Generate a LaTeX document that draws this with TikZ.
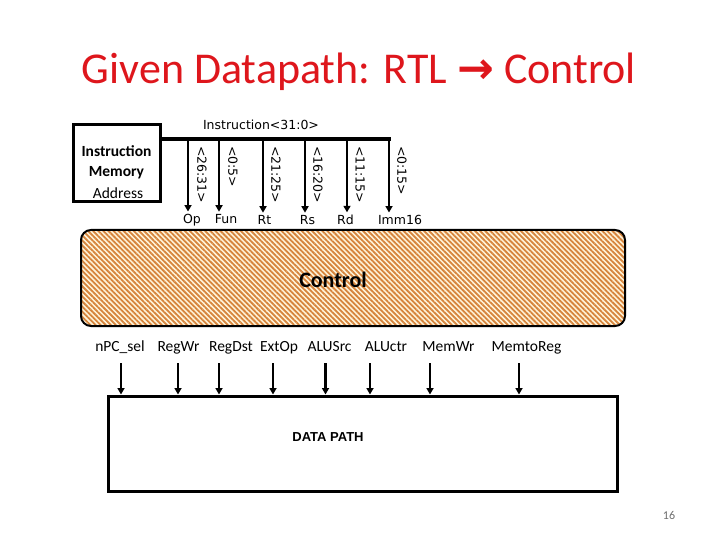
\documentclass[tikz,border=0pt]{standalone}
\usepackage{fontspec}
\setmainfont{Carlito}
\newfontfamily\dv{DejaVu Sans}
\newfontfamily\lib{Liberation Sans}
\usetikzlibrary{arrows.meta,patterns.meta}
\definecolor{titlered}{RGB}{222,22,28}
\definecolor{hatch}{RGB}{214,132,60}
\definecolor{cream}{RGB}{255,244,218}
\definecolor{pagegray}{RGB}{110,110,110}
\begin{document}
\begin{tikzpicture}[x=1pt,y=-1pt,
  box/.style={draw, line width=3pt, inner sep=0pt},
  sig/.style={font=\fontsize{15.5}{18}\selectfont, inner sep=0pt, anchor=base},
  bit/.style={font=\dv\fontsize{12.5}{14}\selectfont, rotate=-90, anchor=west, inner sep=0pt},
  fld/.style={font=\dv\fontsize{12.5}{14}\selectfont, inner sep=0pt, anchor=base},
  memtxt/.style={font=\fontsize{15.5}{18}\selectfont, anchor=base, inner sep=0pt},
  arr/.style={line width=2.2pt, -{Triangle[length=6.5pt,width=7pt]}},
]
\useasboundingbox (0,0) rectangle (720,540);

% title
\node[text=titlered, font=\fontsize{44}{50}\selectfont, anchor=base, inner sep=0pt] (title) at (359,84)
  {Given Datapath: RTL {\dv\bfseries →} Control};

% instruction memory
\node[box, minimum width=87pt, minimum height=77pt] (mem) at (116.5,163.5) {};
\node[memtxt, font=\bfseries\fontsize{15.5}{18}\selectfont] (m1) at (116.5,157) {Instruction};
\node[memtxt, font=\bfseries\fontsize{15.5}{18}\selectfont] (m2) at (116.5,177) {Memory};
\node[memtxt] (m3) at (118,199) {Address};

% bus
\coordinate (busL) at (mem.east |- {(0,139)});
\coordinate (busR) at (391,139);
\draw[line width=3.2pt] (busL) -- (busR);
\node[font=\dv\fontsize{12.5}{14}\selectfont, inner sep=0pt] (buslbl) at (261,125) {Instruction<31:0>};

% field taps
\coordinate (t1) at (188,139);
\coordinate (t2) at (219,139);
\coordinate (t3) at (263,139);
\coordinate (t4) at (305,139);
\coordinate (t5) at (347,139);
\coordinate (t6) at (389,139);

\node[fld] (op)  at (192,224) {Op};
\node[fld] (fun) at (226,224) {Fun};
\node[fld] (rt)  at (264.5,225) {Rt};
\node[fld] (rs)  at (307.5,225) {Rs};
\node[fld] (rd)  at (345.5,225) {Rd};
\node[fld] (imm) at (400,225) {Imm16};

\foreach \t/\f in {t1/op,t2/fun,t3/rt,t4/rs,t5/rd,t6/imm}
  \draw[arr, shorten >=3pt] (\t) -- (\t |- \f.north);

\node[bit] (b1) at (202,146) {<26:31>};
\node[bit] (b2) at (233,146) {<0:5>};
\node[bit] (b3) at (276,146) {<21:25>};
\node[bit] (b4) at (318,146) {<16:20>};
\node[bit] (b5) at (360,146) {<11:15>};
\node[bit] (b6) at (402,146) {<0:15>};

% control
\node[draw, line width=2pt, rounded corners=10pt, minimum width=544pt, minimum height=96pt,
      preaction={fill=cream},
      pattern={Lines[angle=-45,distance=3.6pt,line width=1.8pt]}, pattern color=hatch] (ctrl) at (353,278) {};
\node[font=\bfseries\fontsize{22}{26}\selectfont, inner sep=0pt] (ctrltxt) at (333,280) {Control};

% signal labels
\node[sig] (l1) at (120,351) {nPC\_sel};
\node[sig] (l2) at (178.5,351) {RegWr};
\node[sig] (l3) at (231,351) {RegDst};
\node[sig] (l4) at (279,351) {ExtOp};
\node[sig] (l5) at (329.5,351) {ALUSrc};
\node[sig] (l6) at (386,351) {ALUctr};
\node[sig] (l7) at (448.5,351) {MemWr};
\node[sig] (l8) at (526.5,351) {MemtoReg};

% datapath
\node[box, minimum width=509pt, minimum height=95pt] (dp) at (362.5,443.5) {};
\node[font=\lib\bfseries\fontsize{13}{15}\selectfont, inner sep=0pt] (dptxt) at (328,437) {DATA PATH};

\coordinate (s1) at (121,363);
\coordinate (s2) at (178,363);
\coordinate (s3) at (219,363);
\coordinate (s4) at (273,363);
\coordinate (s5) at (325.5,363);
\coordinate (s6) at (370,363);
\coordinate (s7) at (430,363);
\coordinate (s8) at (519,363);
\foreach \s in {s1,s2,s3,s4,s5,s6,s7,s8}
  \draw[arr] (\s) -- (\s |- dp.north);

% page number
\node[text=pagegray, font=\fontsize{12}{14}\selectfont, inner sep=0pt] (pg) at (669,515) {16};
\end{tikzpicture}
\end{document}
